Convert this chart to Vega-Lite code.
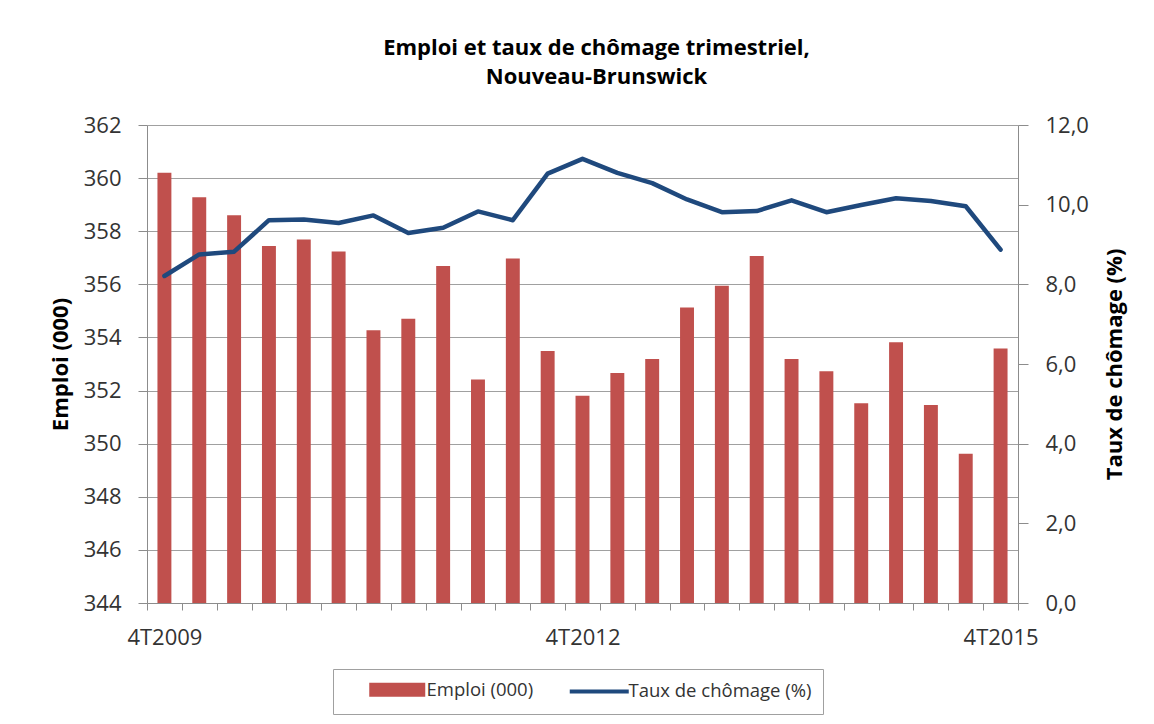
{
  "$schema": "https://vega.github.io/schema/vega-lite/v6.json",
  "width": 871,
  "height": 478,
  "autosize": {"type": "none"},
  "padding": {"left": 147, "top": 125, "right": 136, "bottom": 121},
  "background": "white",
  "title": {
    "text": ["Emploi et taux de chômage trimestriel,", "Nouveau-Brunswick"],
    "font": "Open Sans",
    "fontSize": 22,
    "fontWeight": "bold",
    "color": "#000000",
    "lineHeight": 29,
    "anchor": "middle",
    "dx": 14,
    "offset": 25
  },
  "config": {"view": {"stroke": null}, "font": "Open Sans"},
  "data": {
    "values": [
      {"trimestre": "4T2009", "emploi": 360.2, "taux": 8.21},
      {"trimestre": "1T2010", "emploi": 359.28, "taux": 8.75},
      {"trimestre": "2T2010", "emploi": 358.6, "taux": 8.82},
      {"trimestre": "3T2010", "emploi": 357.44, "taux": 9.61},
      {"trimestre": "4T2010", "emploi": 357.69, "taux": 9.63},
      {"trimestre": "1T2011", "emploi": 357.24, "taux": 9.54},
      {"trimestre": "2T2011", "emploi": 354.27, "taux": 9.73},
      {"trimestre": "3T2011", "emploi": 354.7, "taux": 9.29},
      {"trimestre": "4T2011", "emploi": 356.69, "taux": 9.42},
      {"trimestre": "1T2012", "emploi": 352.42, "taux": 9.83},
      {"trimestre": "2T2012", "emploi": 356.97, "taux": 9.61},
      {"trimestre": "3T2012", "emploi": 353.49, "taux": 10.78},
      {"trimestre": "4T2012", "emploi": 351.8, "taux": 11.15},
      {"trimestre": "1T2013", "emploi": 352.66, "taux": 10.8},
      {"trimestre": "2T2013", "emploi": 353.19, "taux": 10.54},
      {"trimestre": "3T2013", "emploi": 355.13, "taux": 10.13},
      {"trimestre": "4T2013", "emploi": 355.95, "taux": 9.81},
      {"trimestre": "1T2014", "emploi": 357.07, "taux": 9.84},
      {"trimestre": "2T2014", "emploi": 353.19, "taux": 10.11},
      {"trimestre": "3T2014", "emploi": 352.73, "taux": 9.81},
      {"trimestre": "4T2014", "emploi": 351.52, "taux": 9.99},
      {"trimestre": "1T2015", "emploi": 353.82, "taux": 10.16},
      {"trimestre": "2T2015", "emploi": 351.46, "taux": 10.09},
      {"trimestre": "3T2015", "emploi": 349.62, "taux": 9.96},
      {"trimestre": "4T2015", "emploi": 353.58, "taux": 8.87}
    ]
  },
  "layer": [
    {
      "mark": {"type": "bar", "width": {"band": 0.4}},
      "encoding": {
        "x": {
          "field": "trimestre",
          "type": "ordinal",
          "sort": null,
          "scale": {"paddingInner": 0, "paddingOuter": 0},
          "axis": {
            "title": null,
            "tickBand": "extent",
            "labelExpr": "indexof(['4T2009','4T2012','4T2015'], datum.value) >= 0 ? datum.value : ''",
            "labelAngle": 0,
            "labelOverlap": false,
            "labelFont": "Open Sans",
            "labelFontSize": 22,
            "labelColor": "#333333",
            "labelPadding": 17,
            "tickSize": 7,
            "tickColor": "#8c8c8c",
            "domainColor": "#8c8c8c",
            "grid": false
          }
        },
        "y": {
          "field": "emploi",
          "type": "quantitative",
          "scale": {"domain": [344, 362], "nice": false, "zero": false},
          "axis": {
            "title": "Emploi (000)",
            "values": [344, 346, 348, 350, 352, 354, 356, 358, 360, 362],
            "format": "d",
            "grid": true,
            "gridColor": "#a0a0a0",
            "labelFont": "Open Sans",
            "labelFontSize": 22,
            "labelColor": "#333333",
            "labelPadding": 17,
            "tickSize": 9,
            "tickColor": "#8c8c8c",
            "domainColor": "#8c8c8c",
            "titleFont": "Open Sans",
            "titleFontSize": 22,
            "titleFontWeight": "bold",
            "titleColor": "#000000",
            "titlePadding": 11
          }
        },
        "y2": {"datum": 344},
        "color": {
          "datum": "Emploi (000)",
          "scale": {
            "domain": ["Emploi (000)", "Taux de chômage (%)"],
            "range": ["#C0504D", "#1F497D"]
          },
          "legend": {
            "orient": "none",
            "legendX": 186,
            "legendY": 544,
            "direction": "horizontal",
            "title": null,
            "strokeColor": "#a0a0a0",
            "padding": 11,
            "labelFont": "Open Sans",
            "labelFontSize": 18.5,
            "labelColor": "#333333",
            "labelLimit": 400,
            "labelExpr": "datum.label === 'Emploi (000)' ? datum.label : datum.label + '\u00a0\u00a0\u00a0'",
            "symbolSize": 100,
            "symbolStrokeWidth": 4,
            "symbolOffset": 44,
            "labelOffset": 20,
            "columnPadding": 12,
            "encode": {
              "symbols": {
                "update": {
                  "size": {"value": 100},
                  "shape": {"signal": "datum.value === 'Emploi (000)' ? 'M-5.2,-1H5.2V1H-5.2Z' : 'M-5.9,0H5.9'"},
                  "fill": {"signal": "datum.value === 'Emploi (000)' ? '#C0504D' : 'transparent'"},
                  "stroke": {"signal": "datum.value === 'Emploi (000)' ? 'transparent' : '#1F497D'"},
                  "strokeWidth": {"value": 4},
                  "opacity": {"value": 1}
                }
              }
            }
          }
        }
      }
    },
    {
      "mark": {"type": "line", "strokeWidth": 4.5, "strokeJoin": "round", "strokeCap": "round"},
      "encoding": {
        "x": {"field": "trimestre", "type": "ordinal", "sort": null},
        "y": {
          "field": "taux",
          "type": "quantitative",
          "scale": {"domain": [0, 12], "nice": false},
          "axis": {
            "orient": "right",
            "title": "Taux de chômage (%)",
            "values": [0, 2, 4, 6, 8, 10, 12],
            "labelExpr": "replace(format(datum.value, '.1f'), '.', ',')",
            "grid": false,
            "labelFont": "Open Sans",
            "labelFontSize": 22,
            "labelColor": "#333333",
            "labelPadding": 17,
            "tickSize": 10,
            "tickColor": "#8c8c8c",
            "domainColor": "#8c8c8c",
            "titleFont": "Open Sans",
            "titleFontSize": 22,
            "titleFontWeight": "bold",
            "titleColor": "#000000",
            "titleAngle": 270,
            "titleBaseline": "top",
            "titlePadding": 16
          }
        },
        "color": {"datum": "Taux de chômage (%)"}
      }
    }
  ],
  "resolve": {"scale": {"y": "independent"}}
}
